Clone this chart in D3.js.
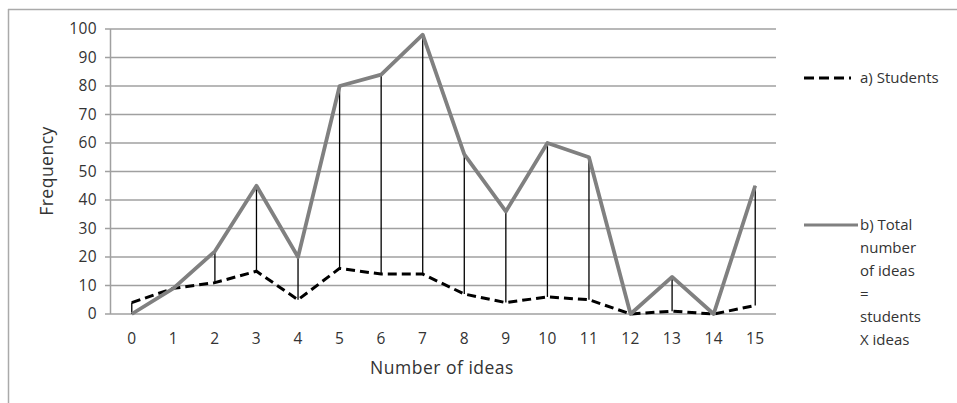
<!DOCTYPE html>
<html><head><meta charset="utf-8">
<script src="https://cdn.jsdelivr.net/npm/d3@7"></script>
<style>body{margin:0;background:#fff}svg{display:block}text{font-family:"Open Sans",sans-serif;fill:#333}</style>
</head><body>
<svg id="c" width="957" height="403"></svg>
<script>
const categories = [0,1,2,3,4,5,6,7,8,9,10,11,12,13,14,15];
const students = [4,9,11,15,5,16,14,14,7,4,6,5,0,1,0,3];
const totalIdeas = [0,9,22,45,20,80,84,98,56,36,60,55,0,13,0,45];
const yTicks = [0,10,20,30,40,50,60,70,80,90,100];
const xTitle = "Number of ideas", yTitle = "Frequency";
const legendA = ["a) Students"];
const legendB = ["b) Total","number","of ideas","=","students","X ideas"];

const svg = d3.select("#c");
// frame
svg.append("line").attr("x1",8).attr("x2",957).attr("y1",9.5).attr("y2",9.5).attr("stroke","#aaa").attr("stroke-width",1.5);
svg.append("line").attr("x1",8.5).attr("x2",8.5).attr("y1",9).attr("y2",403).attr("stroke","#aaa").attr("stroke-width",1.5);

const L=111, R=776, T=29, B=314;
const x = d3.scaleBand().domain(categories).range([L,R]);
const cx = d => x(d)+x.bandwidth()/2;
const y = d3.scaleLinear().domain([0,100]).range([B,T]);

// gridlines
svg.append("g").selectAll("line").data(yTicks).join("line")
  .attr("x1",105).attr("x2",R).attr("y1",d=>y(d)).attr("y2",d=>y(d))
  .attr("stroke","#a0a0a0").attr("stroke-width",1.5);
svg.append("line").attr("x1",L-0.5).attr("x2",L-0.5).attr("y1",T).attr("y2",B).attr("stroke","#a0a0a0").attr("stroke-width",1.5);

const fontTick = g => g.selectAll("text").style("font-family","'Open Sans',sans-serif").style("font-size","15.5px").style("letter-spacing","0.4px").attr("fill","#333");
// y axis labels
const gy = svg.append("g").attr("transform",`translate(97,0)`).call(d3.axisLeft(y).tickValues(yTicks).tickSize(0).tickPadding(0));
gy.select(".domain").remove(); fontTick(gy);

// x axis labels
const gx = svg.append("g").attr("transform",`translate(0,333)`).call(d3.axisBottom(x).tickSize(0).tickPadding(0));
gx.select(".domain").remove(); fontTick(gx);

// drop lines
svg.append("g").selectAll("line").data(categories).join("line")
  .attr("x1",d=>cx(d)).attr("x2",d=>cx(d))
  .attr("y1",(d,i)=>y(Math.max(students[i],totalIdeas[i])))
  .attr("y2",(d,i)=>y(Math.min(students[i],totalIdeas[i])))
  .attr("stroke","#000").attr("stroke-width",1.3);

const line = arr => d3.line().x((d,i)=>cx(categories[i])).y(d=>y(d))(arr);
svg.append("path").attr("d",line(students)).attr("fill","none").attr("stroke","#000")
  .attr("stroke-width",3).attr("stroke-dasharray","9,5");
svg.append("path").attr("d",line(totalIdeas)).attr("fill","none").attr("stroke","#808080")
  .attr("stroke-width",3.8).attr("stroke-linejoin","round");

// titles
svg.append("text").attr("x",442).attr("y",374).attr("text-anchor","middle").style("font-size","17.5px").style("letter-spacing","0.5px").text(xTitle);
svg.append("text").attr("transform","translate(53,171) rotate(-90)").attr("text-anchor","middle").style("font-size","17.5px").style("letter-spacing","0.5px").text(yTitle);

// legend
svg.append("line").attr("x1",804).attr("x2",851).attr("y1",78).attr("y2",78).attr("stroke","#000").attr("stroke-width",3).attr("stroke-dasharray","10,5");
svg.append("text").attr("x",860).attr("y",83).style("font-size","15px").text(legendA[0]);
svg.append("line").attr("x1",804).attr("x2",858).attr("y1",225).attr("y2",225).attr("stroke","#808080").attr("stroke-width",3);
svg.append("g").selectAll("text").data(legendB).join("text")
  .attr("x",860).attr("y",(d,i)=>230+i*23).style("font-size","15px").text(d=>d);
</script>
</body></html>
